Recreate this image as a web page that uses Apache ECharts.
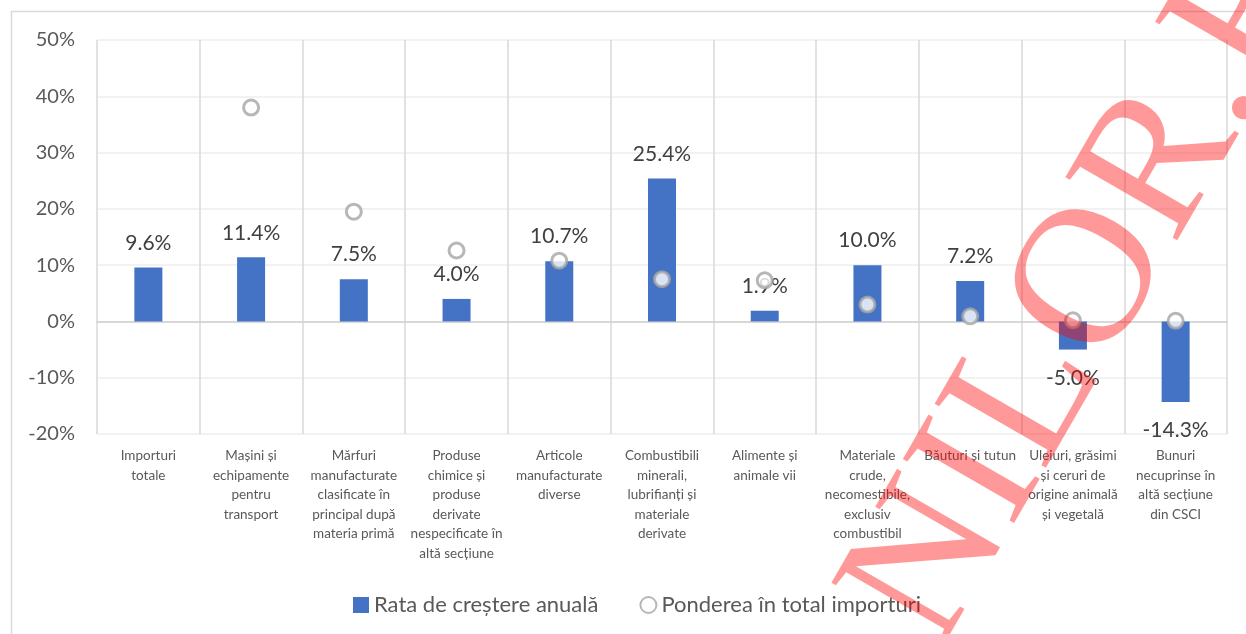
<!DOCTYPE html>
<html>
<head>
<meta charset="utf-8">
<script src="https://cdn.jsdelivr.net/npm/echarts@6/dist/echarts.min.js"></script>
<style>
  html, body { margin: 0; padding: 0; background: #fff; }
  #main { width: 1246px; height: 634px; }
</style>
</head>
<body>
<div id="main"></div>
<script>
const categories = [
  'Importuri\ntotale',
  'Mașini și\nechipamente\npentru\ntransport',
  'Mărfuri\nmanufacturate\nclasificate în\nprincipal după\nmateria primă',
  'Produse\nchimice și\nproduse\nderivate\nnespecificate în\naltă secțiune',
  'Articole\nmanufacturate\ndiverse',
  'Combustibili\nminerali,\nlubrifianți și\nmateriale\nderivate',
  'Alimente și\nanimale vii',
  'Materiale\ncrude,\nnecomestibile,\nexclusiv\ncombustibil',
  'Băuturi și tutun',
  'Uleiuri, grăsimi\nși ceruri de\norigine animală\nși vegetală',
  'Bunuri\nnecuprinse în\naltă secțiune\ndin CSCI'
];
// Rata de creștere anuală (%)
const growth = [9.6, 11.4, 7.5, 4.0, 10.7, 25.4, 1.9, 10.0, 7.2, -5.0, -14.3];
// Ponderea în total importuri (%)
const share = [null, 38.0, 19.5, 12.6, 10.8, 7.5, 7.3, 3.0, 0.9, 0.2, 0.1];

const font = 'Lato, "Open Sans", sans-serif';
const myChart = echarts.init(document.getElementById('main'));

const option = {
  backgroundColor: '#ffffff',
  animation: false,
  textStyle: { fontFamily: font },
  grid: { left: 97, right: 19, top: 40, bottom: 200 },
  legend: {
    left: 348,
    top: 589,
    itemGap: 41,
    itemWidth: 16,
    itemHeight: 16,
    textStyle: { color: '#595959', fontSize: 22, fontFamily: font },
    data: [
      { name: 'Rata de creștere anuală', icon: 'rect' },
      { name: 'Ponderea în total importuri', icon: 'circle' }
    ]
  },
  xAxis: {
    type: 'category',
    data: categories,
    axisLine: { onZero: true, lineStyle: { color: '#d0d0d0', width: 1.5 } },
    axisTick: { show: false },
    splitLine: { show: true, lineStyle: { color: '#d9d9d9', width: 1.5 } },
    axisLabel: {
      interval: 0,
      color: '#595959',
      fontSize: 13.5,
      lineHeight: 19.5,
      margin: 12,
      fontFamily: font,
      verticalAlign: 'top'
    }
  },
  yAxis: {
    type: 'value',
    min: -20,
    max: 50,
    interval: 10,
    axisLine: { show: false },
    axisTick: { show: false },
    splitLine: { lineStyle: { color: '#eeeeee', width: 1.5 } },
    axisLabel: {
      formatter: '{value}%',
      color: '#595959',
      fontSize: 20,
      margin: 22,
      fontFamily: font
    }
  },
  series: [
    {
      name: 'Rata de creștere anuală',
      type: 'bar',
      barWidth: 28,
      itemStyle: { color: '#4472C4' },
      data: growth.map(v => ({
        value: v,
        label: v < 0 ? { position: 'bottom', distance: 18 } : { position: 'top' }
      })),
      label: {
        show: true,
        distance: 14,
        color: '#404040',
        fontSize: 21,
        fontFamily: font,
        formatter: p => p.value.toFixed(1) + '%'
      },
      z: 2
    },
    {
      name: 'Ponderea în total importuri',
      type: 'scatter',
      symbol: 'circle',
      symbolSize: 15,
      itemStyle: { color: '#ffffff', borderColor: '#A5A5A5', borderWidth: 3 },
      data: share.map(v => (v === null ? '-' : v)),
      z: 3
    }
  ],
  graphic: [
    {
      type: 'rect',
      left: 9,
      top: 9,
      shape: { width: 1260, height: 650 },
      style: { fill: 'none', stroke: '#d9d9d9', lineWidth: 1.5 },
      silent: true,
      z: -10
    },
    {
      // watermark
      type: 'text',
      x: 980,
      y: 675,
      rotation: 60 * Math.PI / 180,
      style: {
        text: 'NILOR.RO',
        font: '196px "Liberation Serif", "DejaVu Serif", serif',
        fill: 'rgba(255,0,0,0.4)',
        textAlign: 'left',
        textVerticalAlign: 'bottom'
      },
      silent: true,
      z: 100
    }
  ]
};

myChart.setOption(option);
</script>
</body>
</html>
